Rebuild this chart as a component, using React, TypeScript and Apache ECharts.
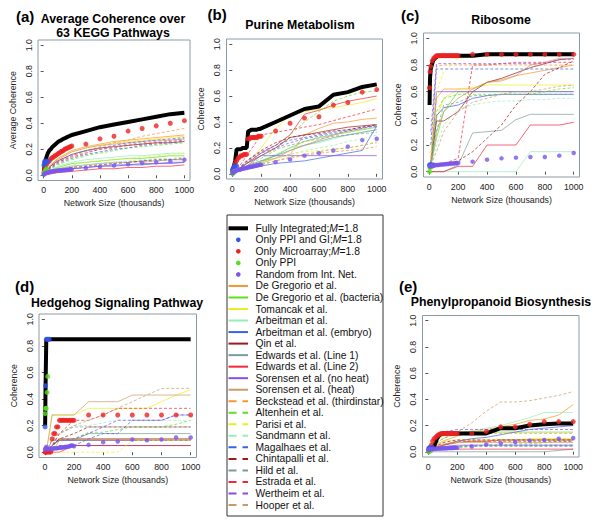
import React, { useEffect, useRef } from "react";
import * as echarts from "echarts";

// ---------- data ----------
const XL = [10, 50, 100, 200, 300, 400, 500, 600, 700, 800, 900, 1000];
const XD = [2, 5, 10, 20, 30, 40, 50, 60, 70, 80, 90, 100, 110, 120, 130, 140, 150, 160, 170, 180, 190, 200, 300, 400, 500, 600, 700, 800, 900, 1000];
const X_PPIGI = [2, 5, 10, 20, 30];
const X_PPI = [2, 5, 10, 15, 20];

const PANEL_TITLES = ["Average Coherence over\n63 KEGG Pathways", "Purine Metabolism", "Ribosome", "Hedgehog Signaling Pathway", "Phenylpropanoid Biosynthesis"];
const PANEL_TAGS = ["(a)", "(b)", "(c)", "(d)", "(e)"];
const Y_NAMES = ["Average Coherence", "Coherence", "Coherence", "Coherence", "Coherence"];
const X_NAME = "Network Size (thousands)";
const X_TICKS = [0, 200, 400, 600, 800, 1000];
const Y_TICKS = [0, 0.2, 0.4, 0.6, 0.8, 1.0];

const DATASET_NAMES = [
  "De Gregorio et al.", "De Gregorio et al. (bacteria)", "Tomancak et al.", "Arbeitman et al.", "Arbeitman et al. (embryo)",
  "Qin et al.", "Edwards et al. (Line 1)", "Edwards et al. (Line 2)", "Sorensen et al. (no heat)", "Sorensen et al. (heat)",
  "Beckstead et al. (thirdinstar)", "Altenhein et al.", "Parisi et al.", "Sandmann et al.", "Magalhaes et al.",
  "Chintapalli et al.", "Hild et al.", "Estrada et al.", "Wertheim et al.", "Hooper et al.",
];
const BASE_COLORS = ["#f7962e", "#5ee01e", "#eeee1e", "#96eebc", "#3a62e6", "#9a1c1c", "#7a9c9c", "#f0283c", "#8a4ce8", "#cc9a68"];

// published datasets, y at XL, per panel
const A_LINES = [
  [0.02, 0.08, 0.13, 0.19, 0.22, 0.24, 0.26, 0.27, 0.28, 0.29, 0.30, 0.31],
  [0.01, 0.04, 0.06, 0.09, 0.10, 0.11, 0.12, 0.13, 0.13, 0.14, 0.15, 0.15],
  [0.02, 0.07, 0.12, 0.18, 0.21, 0.23, 0.25, 0.26, 0.27, 0.28, 0.29, 0.30],
  [0.01, 0.04, 0.07, 0.10, 0.12, 0.13, 0.14, 0.15, 0.15, 0.16, 0.17, 0.17],
  [0.01, 0.02, 0.03, 0.05, 0.06, 0.07, 0.07, 0.08, 0.08, 0.09, 0.09, 0.10],
  [0.02, 0.07, 0.11, 0.16, 0.19, 0.21, 0.22, 0.23, 0.24, 0.25, 0.25, 0.26],
  [0.01, 0.03, 0.05, 0.07, 0.08, 0.09, 0.10, 0.10, 0.11, 0.11, 0.12, 0.12],
  [0.00, 0.01, 0.02, 0.03, 0.04, 0.05, 0.05, 0.06, 0.06, 0.07, 0.07, 0.08],
  [0.01, 0.02, 0.04, 0.05, 0.06, 0.07, 0.08, 0.08, 0.09, 0.09, 0.10, 0.10],
  [0.02, 0.08, 0.12, 0.18, 0.21, 0.23, 0.24, 0.25, 0.26, 0.27, 0.27, 0.28],
  [0.02, 0.06, 0.10, 0.15, 0.19, 0.22, 0.25, 0.27, 0.30, 0.32, 0.34, 0.36],
  [0.01, 0.05, 0.08, 0.12, 0.15, 0.17, 0.19, 0.21, 0.22, 0.23, 0.24, 0.25],
  [0.01, 0.03, 0.05, 0.08, 0.10, 0.11, 0.12, 0.13, 0.14, 0.15, 0.16, 0.17],
  [0.01, 0.03, 0.05, 0.07, 0.08, 0.09, 0.10, 0.11, 0.12, 0.13, 0.13, 0.14],
  [0.01, 0.05, 0.09, 0.13, 0.16, 0.18, 0.20, 0.21, 0.23, 0.24, 0.25, 0.26],
  [0.01, 0.03, 0.04, 0.06, 0.07, 0.08, 0.09, 0.10, 0.11, 0.12, 0.12, 0.13],
  [0.02, 0.06, 0.10, 0.15, 0.18, 0.20, 0.22, 0.24, 0.25, 0.26, 0.27, 0.28],
  [0.02, 0.06, 0.10, 0.14, 0.17, 0.20, 0.21, 0.23, 0.24, 0.25, 0.26, 0.27],
  [0.02, 0.07, 0.11, 0.16, 0.19, 0.21, 0.23, 0.25, 0.26, 0.27, 0.28, 0.29],
  [0.01, 0.02, 0.04, 0.06, 0.07, 0.08, 0.09, 0.10, 0.10, 0.11, 0.12, 0.12],
];
const B_LINES = [
  [0.01, 0.03, 0.06, 0.10, 0.12, 0.15, 0.30, 0.35, 0.39, 0.40, 0.42, 0.43],
  [0.01, 0.03, 0.05, 0.09, 0.14, 0.20, 0.25, 0.28, 0.30, 0.32, 0.34, 0.36],
  [0.01, 0.04, 0.08, 0.20, 0.35, 0.45, 0.48, 0.50, 0.51, 0.53, 0.55, 0.58],
  [0.01, 0.03, 0.05, 0.10, 0.15, 0.20, 0.22, 0.24, 0.27, 0.30, 0.32, 0.34],
  [0.01, 0.02, 0.04, 0.06, 0.08, 0.09, 0.10, 0.12, 0.14, 0.16, 0.18, 0.37],
  [0.01, 0.04, 0.08, 0.14, 0.20, 0.28, 0.30, 0.32, 0.34, 0.36, 0.37, 0.38],
  [0.01, 0.03, 0.06, 0.10, 0.14, 0.18, 0.22, 0.25, 0.28, 0.30, 0.32, 0.34],
  [0.01, 0.04, 0.08, 0.16, 0.22, 0.30, 0.46, 0.49, 0.53, 0.56, 0.58, 0.60],
  [0.01, 0.03, 0.06, 0.14, 0.14, 0.14, 0.14, 0.14, 0.14, 0.14, 0.14, 0.14],
  [0.01, 0.03, 0.05, 0.08, 0.12, 0.18, 0.22, 0.26, 0.30, 0.33, 0.35, 0.38],
  [0.00, 0.02, 0.04, 0.07, 0.10, 0.12, 0.14, 0.16, 0.17, 0.18, 0.19, 0.21],
  [0.01, 0.03, 0.06, 0.12, 0.18, 0.30, 0.40, 0.48, 0.56, 0.60, 0.63, 0.64],
  [0.01, 0.02, 0.04, 0.08, 0.12, 0.15, 0.17, 0.18, 0.19, 0.20, 0.22, 0.25],
  [0.01, 0.03, 0.05, 0.09, 0.12, 0.15, 0.18, 0.20, 0.22, 0.25, 0.27, 0.30],
  [0.01, 0.05, 0.10, 0.17, 0.22, 0.26, 0.28, 0.30, 0.32, 0.34, 0.36, 0.37],
  [0.01, 0.04, 0.10, 0.18, 0.24, 0.28, 0.30, 0.31, 0.33, 0.34, 0.36, 0.38],
  [0.01, 0.04, 0.08, 0.14, 0.19, 0.22, 0.25, 0.27, 0.29, 0.30, 0.31, 0.32],
  [0.01, 0.06, 0.14, 0.30, 0.32, 0.34, 0.36, 0.38, 0.41, 0.44, 0.47, 0.50],
  [0.01, 0.04, 0.09, 0.16, 0.20, 0.24, 0.27, 0.29, 0.31, 0.33, 0.35, 0.37],
  [0.00, 0.02, 0.04, 0.07, 0.10, 0.13, 0.15, 0.17, 0.19, 0.20, 0.22, 0.24],
];
const C_LINES = [
  [0.05, 0.55, 0.62, 0.62, 0.62, 0.67, 0.69, 0.72, 0.74, 0.76, 0.78, 0.80],
  [0.04, 0.25, 0.45, 0.60, 0.60, 0.60, 0.60, 0.60, 0.60, 0.60, 0.60, 0.60],
  [0.05, 0.40, 0.55, 0.62, 0.63, 0.65, 0.65, 0.65, 0.65, 0.65, 0.65, 0.65],
  [0.00, 0.00, 0.00, 0.00, 0.00, 0.00, 0.00, 0.00, 0.15, 0.15, 0.15, 0.15],
  [0.04, 0.42, 0.48, 0.50, 0.55, 0.57, 0.58, 0.58, 0.58, 0.58, 0.58, 0.58],
  [0.05, 0.38, 0.38, 0.45, 0.60, 0.67, 0.70, 0.74, 0.78, 0.81, 0.84, 0.85],
  [0.00, 0.00, 0.00, 0.05, 0.29, 0.30, 0.31, 0.39, 0.43, 0.43, 0.43, 0.43],
  [0.00, 0.00, 0.00, 0.04, 0.04, 0.20, 0.20, 0.20, 0.35, 0.35, 0.35, 0.37],
  [0.05, 0.60, 0.60, 0.60, 0.60, 0.60, 0.60, 0.60, 0.60, 0.60, 0.60, 0.60],
  [0.05, 0.30, 0.45, 0.55, 0.62, 0.67, 0.68, 0.72, 0.80, 0.82, 0.85, 0.85],
  [0.10, 0.79, 0.80, 0.80, 0.80, 0.80, 0.80, 0.80, 0.80, 0.80, 0.80, 0.80],
  [0.04, 0.45, 0.55, 0.58, 0.58, 0.58, 0.58, 0.58, 0.58, 0.60, 0.62, 0.63],
  [0.10, 0.60, 0.75, 0.85, 0.86, 0.87, 0.87, 0.87, 0.87, 0.87, 0.87, 0.87],
  [0.04, 0.20, 0.35, 0.47, 0.50, 0.52, 0.53, 0.53, 0.54, 0.54, 0.55, 0.55],
  [0.20, 0.77, 0.77, 0.77, 0.77, 0.77, 0.77, 0.77, 0.77, 0.77, 0.77, 0.77],
  [0.02, 0.05, 0.06, 0.08, 0.15, 0.25, 0.35, 0.50, 0.60, 0.73, 0.78, 0.83],
  [0.04, 0.30, 0.50, 0.52, 0.57, 0.57, 0.58, 0.58, 0.58, 0.58, 0.58, 0.58],
  [0.02, 0.05, 0.06, 0.10, 0.80, 0.80, 0.81, 0.82, 0.82, 0.82, 0.82, 0.82],
  [0.30, 0.81, 0.81, 0.81, 0.81, 0.81, 0.81, 0.81, 0.81, 0.81, 0.84, 0.84],
  [0.05, 0.15, 0.30, 0.45, 0.52, 0.55, 0.58, 0.60, 0.60, 0.62, 0.64, 0.65],
];
const D_LINES = [
  [0.00, 0.00, 0.09, 0.09, 0.09, 0.09, 0.09, 0.09, 0.09, 0.09, 0.09, 0.09],
  [0.00, 0.05, 0.09, 0.09, 0.09, 0.09, 0.09, 0.09, 0.09, 0.09, 0.09, 0.09],
  [0.00, 0.28, 0.28, 0.28, 0.33, 0.33, 0.33, 0.33, 0.33, 0.38, 0.43, 0.47],
  [0.00, 0.00, 0.05, 0.05, 0.05, 0.05, 0.05, 0.05, 0.05, 0.05, 0.05, 0.05],
  [0.00, 0.02, 0.02, 0.05, 0.05, 0.05, 0.05, 0.05, 0.05, 0.05, 0.05, 0.05],
  [0.00, 0.05, 0.10, 0.10, 0.10, 0.10, 0.10, 0.10, 0.10, 0.10, 0.10, 0.10],
  [0.00, 0.05, 0.09, 0.09, 0.14, 0.14, 0.14, 0.14, 0.14, 0.14, 0.14, 0.14],
  [0.00, 0.00, 0.00, 0.05, 0.05, 0.05, 0.05, 0.05, 0.05, 0.05, 0.05, 0.05],
  [0.00, 0.09, 0.09, 0.09, 0.09, 0.09, 0.09, 0.09, 0.09, 0.09, 0.09, 0.09],
  [0.00, 0.28, 0.28, 0.28, 0.38, 0.38, 0.38, 0.43, 0.43, 0.43, 0.43, 0.43],
  [0.00, 0.10, 0.10, 0.10, 0.10, 0.10, 0.10, 0.10, 0.10, 0.10, 0.10, 0.10],
  [0.00, 0.05, 0.09, 0.10, 0.15, 0.15, 0.17, 0.19, 0.19, 0.19, 0.21, 0.24],
  [0.00, 0.00, 0.00, 0.00, 0.00, 0.00, 0.00, 0.09, 0.09, 0.09, 0.09, 0.09],
  [0.00, 0.10, 0.14, 0.20, 0.20, 0.22, 0.24, 0.24, 0.24, 0.24, 0.24, 0.24],
  [0.00, 0.00, 0.05, 0.05, 0.10, 0.14, 0.14, 0.24, 0.24, 0.24, 0.28, 0.28],
  [0.00, 0.05, 0.10, 0.14, 0.19, 0.19, 0.19, 0.19, 0.19, 0.19, 0.19, 0.19],
  [0.00, 0.05, 0.14, 0.19, 0.19, 0.19, 0.19, 0.19, 0.19, 0.19, 0.19, 0.19],
  [0.00, 0.05, 0.14, 0.24, 0.24, 0.28, 0.33, 0.33, 0.33, 0.33, 0.33, 0.33],
  [0.00, 0.05, 0.09, 0.10, 0.14, 0.19, 0.24, 0.24, 0.24, 0.24, 0.28, 0.28],
  [0.00, 0.10, 0.14, 0.20, 0.24, 0.28, 0.33, 0.38, 0.43, 0.48, 0.48, 0.48],
];
const E_LINES = [
  [0.01, 0.05, 0.08, 0.12, 0.15, 0.17, 0.19, 0.21, 0.24, 0.25, 0.28, 0.36],
  [0.01, 0.08, 0.12, 0.15, 0.15, 0.15, 0.15, 0.15, 0.15, 0.15, 0.15, 0.15],
  [0.01, 0.05, 0.08, 0.09, 0.09, 0.09, 0.09, 0.09, 0.10, 0.10, 0.10, 0.10],
  [0.01, 0.06, 0.10, 0.14, 0.16, 0.18, 0.20, 0.23, 0.26, 0.30, 0.30, 0.30],
  [0.01, 0.03, 0.05, 0.08, 0.10, 0.11, 0.13, 0.15, 0.17, 0.18, 0.19, 0.20],
  [0.01, 0.03, 0.05, 0.07, 0.08, 0.08, 0.09, 0.09, 0.09, 0.09, 0.09, 0.09],
  [0.00, 0.00, 0.00, 0.00, 0.00, 0.00, 0.00, 0.00, 0.00, 0.00, 0.01, 0.02],
  [0.01, 0.02, 0.02, 0.02, 0.02, 0.02, 0.02, 0.02, 0.02, 0.02, 0.02, 0.02],
  [0.01, 0.03, 0.04, 0.05, 0.05, 0.05, 0.05, 0.05, 0.05, 0.05, 0.05, 0.05],
  [0.01, 0.04, 0.06, 0.07, 0.07, 0.07, 0.07, 0.07, 0.07, 0.07, 0.07, 0.07],
  [0.01, 0.06, 0.10, 0.14, 0.14, 0.14, 0.14, 0.14, 0.14, 0.14, 0.14, 0.14],
  [0.00, 0.01, 0.02, 0.03, 0.04, 0.05, 0.05, 0.06, 0.06, 0.07, 0.08, 0.08],
  [0.01, 0.03, 0.05, 0.07, 0.08, 0.08, 0.09, 0.09, 0.09, 0.10, 0.10, 0.10],
  [0.01, 0.02, 0.03, 0.04, 0.04, 0.05, 0.05, 0.05, 0.05, 0.05, 0.05, 0.05],
  [0.01, 0.02, 0.03, 0.04, 0.05, 0.05, 0.05, 0.05, 0.05, 0.05, 0.05, 0.05],
  [0.01, 0.04, 0.07, 0.09, 0.09, 0.09, 0.09, 0.09, 0.09, 0.09, 0.09, 0.09],
  [0.01, 0.02, 0.03, 0.04, 0.04, 0.04, 0.04, 0.04, 0.04, 0.04, 0.04, 0.04],
  [0.01, 0.03, 0.05, 0.08, 0.08, 0.08, 0.08, 0.08, 0.08, 0.08, 0.08, 0.08],
  [0.01, 0.08, 0.15, 0.17, 0.17, 0.17, 0.17, 0.17, 0.17, 0.17, 0.17, 0.17],
  [0.01, 0.06, 0.10, 0.15, 0.22, 0.31, 0.38, 0.38, 0.39, 0.41, 0.43, 0.46],
];

// Fully integrated (black), y at XD
const A_FULL = [0.03, 0.06, 0.10, 0.14, 0.17, 0.19, 0.20, 0.215, 0.225, 0.235, 0.245, 0.255, 0.262, 0.268, 0.274, 0.28, 0.285, 0.29, 0.295, 0.30, 0.305, 0.31, 0.34, 0.37, 0.39, 0.41, 0.43, 0.45, 0.47, 0.48];
const B_FULL = [0.01, 0.02, 0.05, 0.10, 0.19, 0.19, 0.19, 0.19, 0.20, 0.20, 0.20, 0.20, 0.33, 0.33, 0.34, 0.34, 0.34, 0.34, 0.34, 0.345, 0.345, 0.35, 0.40, 0.45, 0.50, 0.52, 0.61, 0.63, 0.67, 0.69];
const C_FULL = [0.50, 0.70, 0.77, 0.81, 0.84, 0.85, 0.86, 0.87, 0.87, 0.87, 0.87, 0.87, 0.87, 0.87, 0.87, 0.87, 0.87, 0.87, 0.87, 0.87, 0.87, 0.87, 0.87, 0.88, 0.88, 0.88, 0.88, 0.88, 0.88, 0.88];
const D_FULL = [0.20, 0.50, 0.85, 0.85, 0.85, 0.85, 0.85, 0.85, 0.85, 0.85, 0.85, 0.85, 0.85, 0.85, 0.85, 0.85, 0.85, 0.85, 0.85, 0.85, 0.85, 0.85, 0.85, 0.85, 0.85, 0.85, 0.85, 0.85, 0.85, 0.85];
const E_FULL = [0.02, 0.02, 0.02, 0.03, 0.035, 0.04, 0.07, 0.10, 0.12, 0.13, 0.135, 0.14, 0.14, 0.14, 0.14, 0.14, 0.14, 0.14, 0.14, 0.14, 0.14, 0.14, 0.14, 0.14, 0.18, 0.18, 0.20, 0.21, 0.215, 0.215];

// Only Microarray (red), y at XD
const A_MICRO = [0.02, 0.04, 0.06, 0.08, 0.10, 0.11, 0.125, 0.135, 0.14, 0.15, 0.155, 0.165, 0.17, 0.18, 0.185, 0.19, 0.20, 0.205, 0.21, 0.215, 0.22, 0.225, 0.24, 0.28, 0.30, 0.34, 0.36, 0.38, 0.40, 0.42];
const B_MICRO = [0.02, 0.03, 0.05, 0.08, 0.10, 0.12, 0.13, 0.14, 0.14, 0.15, 0.15, 0.15, 0.27, 0.27, 0.28, 0.28, 0.28, 0.28, 0.28, 0.29, 0.29, 0.29, 0.33, 0.39, 0.43, 0.44, 0.53, 0.55, 0.63, 0.65];
const C_MICRO = [0.63, 0.75, 0.79, 0.83, 0.85, 0.86, 0.87, 0.87, 0.87, 0.87, 0.87, 0.87, 0.87, 0.87, 0.87, 0.87, 0.87, 0.87, 0.87, 0.87, 0.87, 0.87, 0.88, 0.88, 0.88, 0.88, 0.88, 0.88, 0.88, 0.88];
const D_MICRO = [0.00, 0.00, 0.00, 0.00, 0.00, 0.00, 0.10, 0.14, 0.14, 0.19, 0.19, 0.24, 0.24, 0.24, 0.24, 0.24, 0.24, 0.24, 0.24, 0.24, 0.24, 0.24, 0.28, 0.28, 0.28, 0.28, 0.28, 0.28, 0.28, 0.28];
const E_MICRO = [0.01, 0.015, 0.02, 0.05, 0.08, 0.10, 0.11, 0.12, 0.13, 0.135, 0.14, 0.14, 0.14, 0.14, 0.14, 0.14, 0.14, 0.14, 0.14, 0.14, 0.14, 0.14, 0.14, 0.155, 0.19, 0.19, 0.21, 0.23, 0.23, 0.23];

// Random from Int. Net. (purple), y at XD
const A_RAND = [0.005, 0.01, 0.015, 0.02, 0.022, 0.025, 0.027, 0.03, 0.032, 0.033, 0.035, 0.036, 0.037, 0.038, 0.039, 0.04, 0.041, 0.042, 0.043, 0.044, 0.045, 0.046, 0.055, 0.065, 0.075, 0.085, 0.095, 0.10, 0.11, 0.12];
const B_RAND = [0.005, 0.01, 0.015, 0.02, 0.025, 0.03, 0.03, 0.035, 0.04, 0.04, 0.045, 0.045, 0.05, 0.05, 0.055, 0.055, 0.06, 0.06, 0.065, 0.065, 0.07, 0.07, 0.09, 0.11, 0.14, 0.16, 0.18, 0.21, 0.26, 0.27];
const C_RAND = [0.04, 0.04, 0.04, 0.045, 0.045, 0.048, 0.05, 0.05, 0.052, 0.053, 0.054, 0.055, 0.056, 0.057, 0.058, 0.059, 0.06, 0.061, 0.062, 0.063, 0.064, 0.065, 0.075, 0.09, 0.10, 0.105, 0.11, 0.11, 0.12, 0.14];
const D_RAND = [0.02, 0.03, 0.04, 0.02, 0.025, 0.025, 0.025, 0.03, 0.03, 0.03, 0.032, 0.033, 0.035, 0.035, 0.037, 0.04, 0.04, 0.042, 0.045, 0.05, 0.05, 0.045, 0.055, 0.075, 0.08, 0.095, 0.09, 0.095, 0.11, 0.11];
const E_RAND = [0.01, 0.015, 0.02, 0.02, 0.02, 0.022, 0.022, 0.024, 0.024, 0.025, 0.025, 0.026, 0.026, 0.027, 0.027, 0.028, 0.028, 0.029, 0.029, 0.03, 0.03, 0.03, 0.04, 0.055, 0.065, 0.075, 0.085, 0.09, 0.10, 0.105];

// Only PPI and GI (blue) at X_PPIGI, Only PPI (green) at X_PPI
const A_PPIGI = [0.08, 0.10, 0.11, 0.10, 0.11];
const B_PPIGI = [0.03, 0.04, 0.05, 0.06, 0.06];
const C_PPIGI = [0.05, 0.05, 0.05, 0.05, 0.05];
const D_PPIGI = [0.19, 0.50, 0.85, 0.85, 0.85];
const E_PPIGI = [0.02, 0.03, 0.03, 0.03, 0.03];
const A_PPI = [0.01, 0.02, 0.03, 0.04, 0.05];
const B_PPI = [0.00, 0.01, 0.01, 0.02, 0.02];
const C_PPI = [0.00, 0.03, 0.04, 0.04, 0.04];
const D_PPI = [0.29, 0.33, 0.33, 0.45, 0.57];
const E_PPI = [0.00, 0.00, 0.01, 0.01, 0.01];

const LINES = [A_LINES, B_LINES, C_LINES, D_LINES, E_LINES];
const FULL = [A_FULL, B_FULL, C_FULL, D_FULL, E_FULL];
const MICRO = [A_MICRO, B_MICRO, C_MICRO, D_MICRO, E_MICRO];
const RAND = [A_RAND, B_RAND, C_RAND, D_RAND, E_RAND];
const PPIGI = [A_PPIGI, B_PPIGI, C_PPIGI, D_PPIGI, E_PPIGI];
const PPI = [A_PPI, B_PPI, C_PPI, D_PPI, E_PPI];

// ---------- layout / style ----------
const FONT = "'Liberation Sans', Arial, Helvetica, sans-serif";
const GRIDS = [
  { left: 38, top: 40, width: 152, height: 140.5 },
  { left: 226.5, top: 39, width: 156, height: 140 },
  { left: 423.5, top: 33, width: 156, height: 144 },
  { left: 39, top: 314, width: 157.5, height: 143.5 },
  { left: 422.5, top: 315.5, width: 156.5, height: 141.5 },
];
const C_BLUE = "#3355ee";
const C_RED = "#ee2222";
const C_GREEN = "#55dd22";
const C_PURPLE = "#7a55ee";

function pairs(xs: number[], ys: number[]) {
  return xs.map((x, i) => [x, ys[i]]);
}

export default function App() {
  const ref = useRef<HTMLDivElement>(null);
  useEffect(() => {
    if (!ref.current) return;
    const chart = echarts.init(ref.current, null, { renderer: "svg" });

    const xAxes: any[] = [];
    const yAxes: any[] = [];
    const series: any[] = [];
    GRIDS.forEach((g, p) => {
      xAxes.push({
        type: "value", gridIndex: p, min: -40, max: 1040,
        name: X_NAME, nameLocation: "middle", nameGap: 18,
        nameTextStyle: { fontSize: 8.8, color: "#222", fontFamily: FONT },
        axisLine: { show: false },
        axisTick: { show: true, length: 3, customValues: X_TICKS, lineStyle: { color: "#555" } },
        axisLabel: { customValues: X_TICKS, fontSize: 8.8, color: "#222", fontFamily: FONT, margin: 5, formatter: (v: number) => String(v) },
        splitLine: { show: false },
      });
      yAxes.push({
        type: "value", gridIndex: p, min: -0.04, max: 1.04,
        name: Y_NAMES[p], nameLocation: "middle", nameGap: 21,
        nameTextStyle: { fontSize: 8.8, color: "#222", fontFamily: FONT },
        axisLine: { show: false },
        axisTick: { show: true, length: 3, customValues: Y_TICKS, lineStyle: { color: "#555" } },
        axisLabel: { customValues: Y_TICKS, rotate: 90, fontSize: 8.8, color: "#222", fontFamily: FONT, margin: 5, formatter: (v: number) => v.toFixed(1) },
        splitLine: { show: false },
      });
      LINES[p].forEach((ys, d) => {
        series.push({
          type: "line", name: DATASET_NAMES[d], xAxisIndex: p, yAxisIndex: p,
          data: pairs(XL, ys), symbol: "none", silent: true, z: 2,
          lineStyle: { color: BASE_COLORS[d % 10], width: 1, type: d >= 10 ? [3, 2] : "solid", opacity: 0.7 },
        });
      });
      series.push({
        type: "line", name: "Fully Integrated", xAxisIndex: p, yAxisIndex: p,
        data: pairs(XD, FULL[p]), symbol: "none", silent: true, z: 3,
        lineStyle: { color: "#000", width: 4 },
      });
      series.push({
        type: "scatter", name: "Only Microarray", xAxisIndex: p, yAxisIndex: p,
        data: pairs(XD, MICRO[p]), symbolSize: 5, silent: true, z: 4,
        itemStyle: { color: C_RED },
      });
      series.push({
        type: "scatter", name: "Only PPI and GI", xAxisIndex: p, yAxisIndex: p,
        data: pairs(X_PPIGI, PPIGI[p]), symbolSize: 5, silent: true, z: 4,
        itemStyle: { color: C_BLUE },
      });
      series.push({
        type: "scatter", name: "Only PPI", xAxisIndex: p, yAxisIndex: p,
        data: pairs(X_PPI, PPI[p]), symbolSize: 5, silent: true, z: 4,
        itemStyle: { color: C_GREEN },
      });
      series.push({
        type: "scatter", name: "Random from Int. Net.", xAxisIndex: p, yAxisIndex: p,
        data: pairs(XD, RAND[p]), symbolSize: 4.5, silent: true, z: 4,
        itemStyle: { color: C_PURPLE },
      });
    });

    // titles and legend as graphic
    const graphic: any[] = [];
    const titlePos = [
      { tag: [16, 16], title: [113, 26] },
      { tag: [207.5, 14], title: [300, 25] },
      { tag: [401, 15], title: [501, 20] },
      { tag: [15, 286], title: [117, 302.5] },
      { tag: [399, 286], title: [501, 302] },
    ];
    titlePos.forEach((tp, p) => {
      graphic.push({
        type: "text", x: tp.tag[0], y: tp.tag[1],
        style: { text: PANEL_TAGS[p], font: `bold 15px ${FONT}`, fill: "#000", align: "left", verticalAlign: "middle" },
      });
      graphic.push({
        type: "text", x: tp.title[0], y: tp.title[1],
        style: { text: PANEL_TITLES[p], font: `bold 12.3px ${FONT}`, fill: "#000", align: "center", verticalAlign: "middle", lineHeight: 14 },
      });
    });

    const LX = 227, LY = 215, LW = 156, LH = 301;
    graphic.push({ type: "rect", shape: { x: LX, y: LY, width: LW, height: LH }, style: { fill: "#fff", stroke: "#333", lineWidth: 1 } });
    const legendItems: any[] = [
      { kind: "line", color: "#000", width: 4, text: "Fully Integrated;{i|M}=1.8" },
      { kind: "dot", color: C_BLUE, text: "Only PPI and GI;{i|M}=1.8" },
      { kind: "dot", color: C_RED, text: "Only Microarray;{i|M}=1.8" },
      { kind: "dot", color: C_GREEN, text: "Only PPI" },
      { kind: "dot", color: C_PURPLE, text: "Random from Int. Net." },
      ...DATASET_NAMES.map((n, d) => ({ kind: "line", color: BASE_COLORS[d % 10], width: 2, dash: d >= 10, text: n })),
    ];
    const LFS = 10.3;
    legendItems.forEach((it, i) => {
      const y = 228.3 + i * 11.53;
      if (it.kind === "line") {
        graphic.push({
          type: "line", shape: { x1: 228.5, y1: y, x2: 248, y2: y },
          style: { stroke: it.color, lineWidth: it.width, lineDash: it.dash ? [8, 6] : null },
        });
      } else {
        graphic.push({ type: "circle", shape: { cx: 238.3, cy: y, r: 2.3 }, style: { fill: it.color } });
      }
      graphic.push({
        type: "text", x: 255.5, y,
        style: {
          text: it.text, font: `${LFS}px ${FONT}`, fill: "#111", align: "left", verticalAlign: "middle",
          rich: { i: { fontStyle: "italic", fontSize: LFS, fontFamily: FONT, fill: "#111" } },
        },
      });
    });

    chart.setOption({
      animation: false,
      backgroundColor: "#fff",
      grid: GRIDS.map((g) => ({ ...g, show: true, borderColor: "#8c9aa6", borderWidth: 1, backgroundColor: "transparent", containLabel: false })),
      xAxis: xAxes,
      yAxis: yAxes,
      series,
      graphic,
    });
    return () => chart.dispose();
  }, []);
  return <div ref={ref} style={{ position: "absolute", left: 0, top: 0, width: 600, height: 527 }} />;
}
